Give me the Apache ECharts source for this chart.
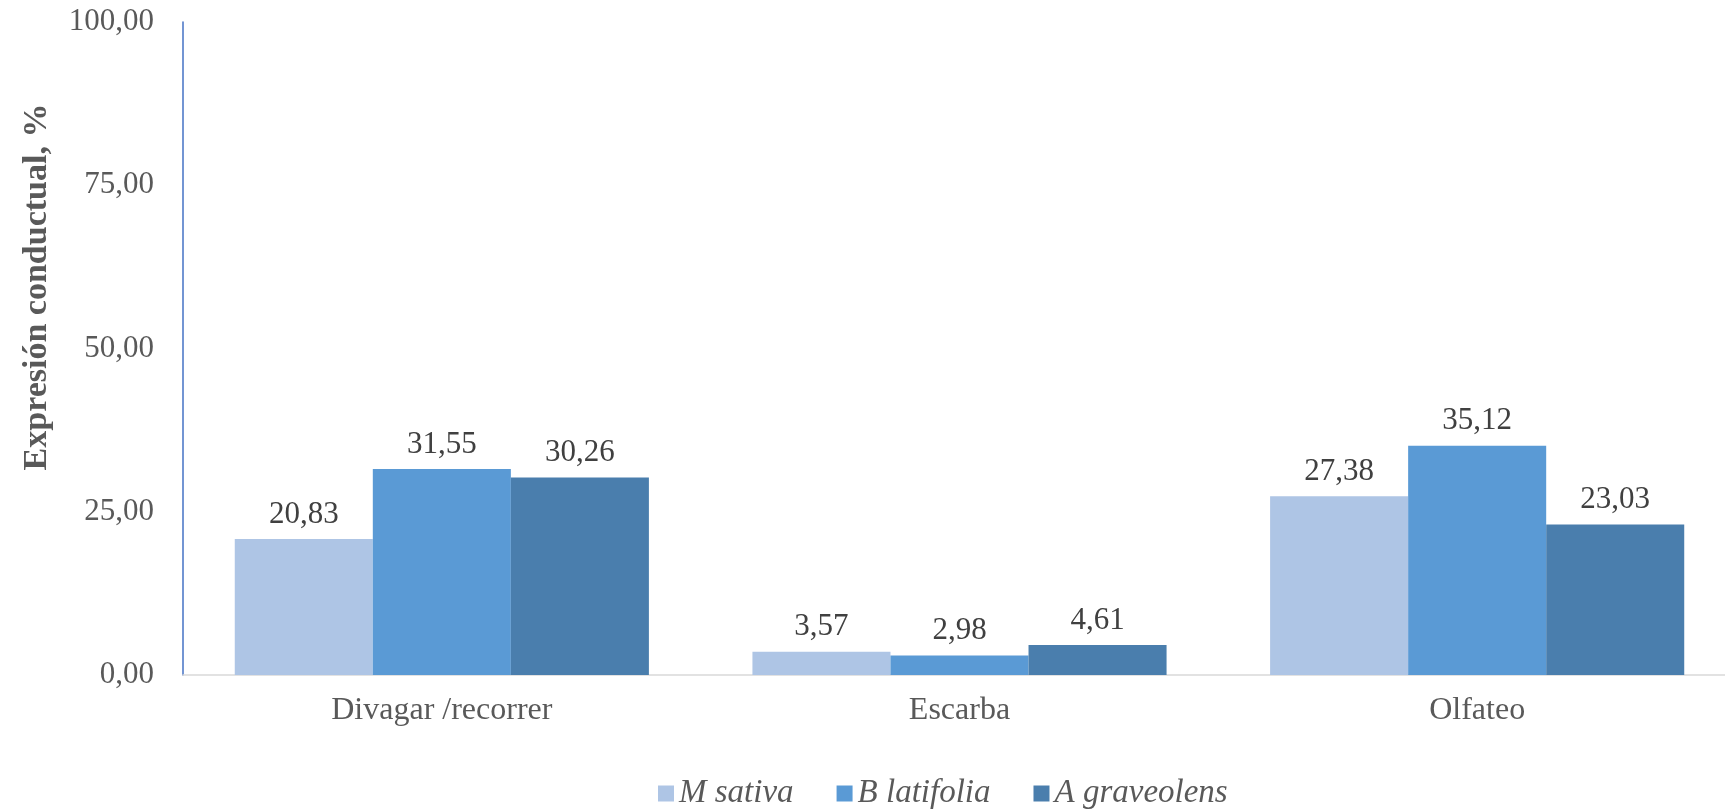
<!DOCTYPE html>
<html>
<head>
<meta charset="utf-8">
<script src="https://cdn.jsdelivr.net/npm/echarts@6/dist/echarts.min.js"></script>
<style>
  html, body { margin: 0; padding: 0; background: #ffffff; overflow: hidden; }
  /* the plot runs slightly past the right edge of the window */
  #chart { width: 1740px; height: 811px; }
</style>
</head>
<body>
<div id="chart"></div>
<script>
// Behaviour categories and the share of each plant extract
const categories = ['Divagar /recorrer', 'Escarba', 'Olfateo'];
const seriesNames = ['M sativa', 'B latifolia', 'A graveolens'];
const mSativa = [20.83, 3.57, 27.38];
const bLatifolia = [31.55, 2.98, 35.12];
const aGraveolens = [30.26, 4.61, 23.03];
const yTicks = [0, 25, 50, 75, 100];
const yTitle = 'Expresión conductual, %';

const colors = ['#AEC5E5', '#5A9AD5', '#4A7EAD'];
const serif = '"Liberation Serif", "Times New Roman", serif';

const fmt = v => v.toFixed(2).replace('.', ',');

function barSeries(name, data, color) {
  return {
    name: name,
    type: 'bar',
    data: data,
    barGap: '0%',
    barCategoryGap: '20%',
    itemStyle: { color: color },
    label: {
      show: true,
      position: 'top',
      distance: 9,
      formatter: p => fmt(p.value),
      fontFamily: serif,
      fontSize: 31,
      color: '#404040'
    }
  };
}

const chart = echarts.init(document.getElementById('chart'), null, { renderer: 'canvas' });

chart.setOption({
  animation: false,
  backgroundColor: '#ffffff',
  grid: { left: 183, top: 22, width: 1553, height: 653 },
  xAxis: {
    type: 'category',
    data: categories,
    axisTick: { show: false },
    axisLine: { lineStyle: { color: '#D9D9D9', width: 1.5 } },
    axisLabel: {
      margin: 20,
      fontFamily: serif,
      fontSize: 32,
      color: '#595959'
    }
  },
  yAxis: {
    type: 'value',
    min: yTicks[0],
    max: yTicks[yTicks.length - 1],
    interval: yTicks[1] - yTicks[0],
    splitLine: { show: false },
    axisTick: { show: false },
    axisLine: { show: true, lineStyle: { color: '#4472C4', width: 1.5 } },
    axisLabel: {
      margin: 29,
      formatter: v => fmt(v),
      fontFamily: serif,
      fontSize: 31,
      color: '#595959'
    }
  },
  legend: {
    data: seriesNames,
    left: 653,
    top: 772,
    icon: 'rect',
    itemWidth: 16,
    itemHeight: 16,
    itemGap: 43,
    textStyle: {
      fontFamily: serif,
      fontStyle: 'italic',
      fontSize: 33,
      color: '#595959'
    }
  },
  graphic: [{
    type: 'text',
    x: 37,
    y: 287,
    rotation: Math.PI / 2,
    style: {
      text: yTitle,
      font: 'bold 34px ' + serif,
      fill: '#595959',
      textAlign: 'center',
      textVerticalAlign: 'middle'
    }
  }],
  series: [
    barSeries(seriesNames[0], mSativa, colors[0]),
    barSeries(seriesNames[1], bLatifolia, colors[1]),
    barSeries(seriesNames[2], aGraveolens, colors[2])
  ]
});
</script>
</body>
</html>
